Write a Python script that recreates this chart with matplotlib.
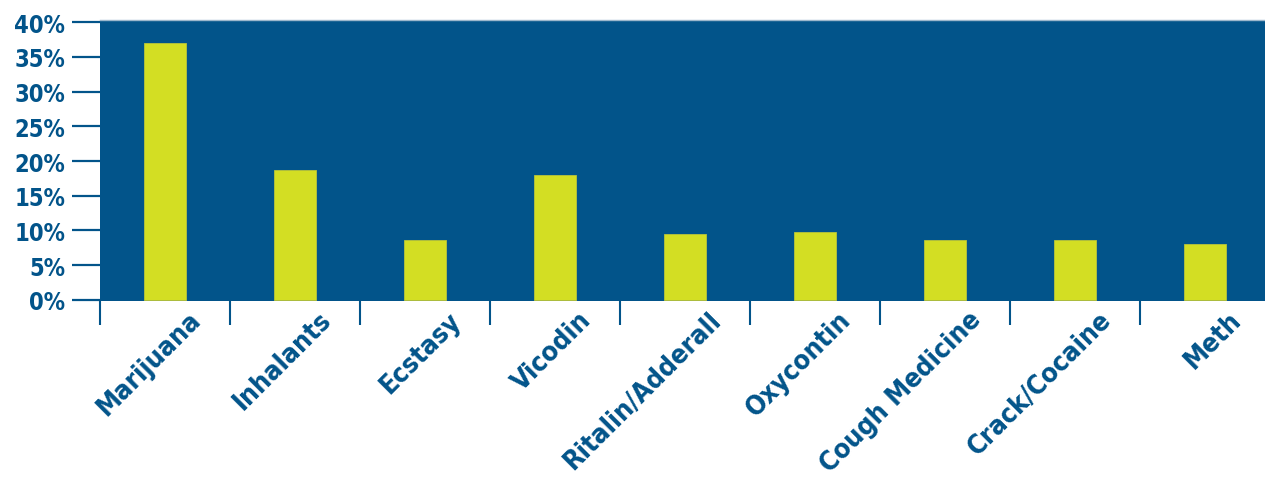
import matplotlib
matplotlib.use("Agg")
import matplotlib.pyplot as plt
import matplotlib.ticker as mtick
from matplotlib.transforms import ScaledTranslation
import numpy as np

# Data
categories = ["Marijuana", "Inhalants", "Ecstasy", "Vicodin", "Ritalin/Adderall",
              "Oxycontin", "Cough Medicine", "Crack/Cocaine", "Meth"]
percent_values = [37.0, 18.7, 8.6, 18.0, 9.5, 9.8, 8.6, 8.6, 8.1]
y_ticks = [0, 5, 10, 15, 20, 25, 30, 35, 40]

BLUE = "#02548A"
LIME = "#D3DE23"

plt.rcParams['font.family'] = ['DejaVu Sans']
plt.rcParams['font.stretch'] = 'condensed'

fig = plt.figure(figsize=(12.65, 4.81), dpi=100)
ax = fig.add_axes([100 / 1265, 179 / 481, 1170 / 1265, 281 / 481])
ax.set_facecolor(BLUE)

x = np.arange(len(categories))
ax.bar(x, percent_values, width=0.33, color=LIME, edgecolor="#B9C43A", linewidth=0.6, zorder=3)

ax.set_xlim(-0.5, len(categories) - 0.5)
ax.set_ylim(-0.15, 40.3)

# y axis
ax.set_yticks(y_ticks)
ax.yaxis.set_major_formatter(mtick.PercentFormatter(decimals=0))
ax.tick_params(axis='y', length=20, width=1.6, color=BLUE, pad=5,
               labelsize=17, labelcolor=BLUE)
for lbl in ax.get_yticklabels():
    lbl.set_fontweight('bold')
    lbl.set_fontstretch('condensed')

# x axis: ticks at boundaries, labels at centres
ax.set_xticks(x)
ax.set_xticks(np.arange(-0.5, len(categories)), minor=True)
ax.tick_params(axis='x', which='major', length=0, pad=6)
ax.tick_params(axis='x', which='minor', length=17, width=1.5, color=BLUE)
ax.set_xticklabels(categories, rotation=45, ha='right', va='top',
                   rotation_mode='anchor', fontsize=19.3, fontweight='bold',
                   fontstretch='condensed', color=BLUE)
offset = ScaledTranslation(0.23, 0.03, fig.dpi_scale_trans)
for lbl in ax.get_xticklabels():
    lbl.set_transform(lbl.get_transform() + offset)

for side in ['left', 'right', 'bottom']:
    ax.spines[side].set_visible(False)
ax.spines['top'].set_color("#9DB7CC")
ax.spines['top'].set_linewidth(1)

fig.savefig("out.png", dpi=100)
